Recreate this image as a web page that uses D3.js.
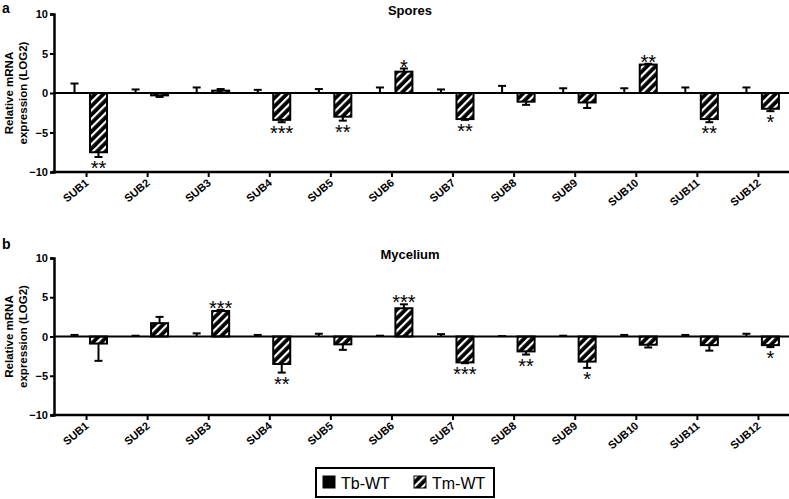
<!DOCTYPE html>
<html>
<head>
<meta charset="utf-8">
<script src="https://cdn.jsdelivr.net/npm/d3@7"></script>
<style>
  body { margin: 0; background: #fff; }
  text { font-family: Arial, "Liberation Sans", sans-serif; }
</style>
</head>
<body>
<div id="chart"></div>
<script>
// categories and series
let genes = ['SUB1', 'SUB2', 'SUB3', 'SUB4', 'SUB5', 'SUB6', 'SUB7', 'SUB8', 'SUB9', 'SUB10', 'SUB11', 'SUB12'];
let series = ['Tb-WT', 'Tm-WT'];
let yTicks = [-10, -5, 0, 5, 10];

// spores (panel a)
let sporesTb = [0, 0, 0, 0, 0, 0, 0, 0, 0, 0, 0, 0];
let sporesTbErr = [1.2, 0.45, 0.7, 0.4, 0.5, 0.7, 0.45, 0.9, 0.6, 0.6, 0.7, 0.7];
let sporesTm = [-7.5, -0.3, 0.3, -3.4, -3.0, 2.7, -3.3, -1.1, -1.2, 3.6, -3.3, -2.0];
let sporesTmErr = [0.6, 0.2, 0.2, 0.3, 0.5, 0.4, 0.1, 0.4, 0.7, 0.1, 0.4, 0.3];
let sporesSig = ['**', '', '', '***', '**', '*', '**', '', '', '**', '**', '*'];

// mycelium (panel b)
let myceliumTb = [0, 0, 0, 0, 0, 0, 0, 0, 0, 0, 0, 0];
let myceliumTbErr = [0.2, 0.1, 0.4, 0.2, 0.35, 0.1, 0.3, 0.05, 0.1, 0.2, 0.2, 0.35];
let myceliumTm = [-0.9, 1.7, 3.25, -3.5, -1.0, 3.6, -3.3, -1.9, -3.2, -1.05, -1.1, -1.1];
let myceliumTmErr = [2.2, 0.8, 0.15, 1.1, 0.7, 0.5, 0.1, 0.4, 0.8, 0.35, 0.7, 0.25];
let myceliumSig = ['', '', '***', '**', '', '***', '***', '**', '*', '', '', '*'];

let svgWidth = 789;
let svgHeight = 499;

let svg = d3.select('#chart').append('svg')
  .attr('width', svgWidth)
  .attr('height', svgHeight);

// hatch pattern for Tm-WT
let defs = svg.append('defs');
let pat = defs.append('pattern')
  .attr('id', 'hatch')
  .attr('patternUnits', 'userSpaceOnUse')
  .attr('width', 6)
  .attr('height', 6)
  .attr('patternTransform', 'rotate(45)');
pat.append('rect').attr('width', 6).attr('height', 6).attr('fill', '#000');
pat.append('rect').attr('x', 0).attr('y', 0).attr('width', 2.2).attr('height', 6).attr('fill', '#fff');

let x0 = d3.scaleBand()
  .domain(genes)
  .range([56, 789]);

let x1 = d3.scaleBand()
  .domain(series)
  .range([10, 51])
  .paddingInner(0.29);

// label slant
let ang = -40 * Math.PI / 180;
let ca = Math.cos(ang), sa = Math.sin(ang);

function drawPanel(opts) {
  let y = d3.scaleLinear()
    .domain([-10, 10])
    .range([opts.bottom, opts.top]);

  let g = svg.append('g');

  // panel letter and title
  g.append('text')
    .attr('x', 2)
    .attr('y', opts.letterY)
    .attr('font-size', 14)
    .attr('font-weight', 'bold')
    .text(opts.letter);

  g.append('text')
    .attr('x', 410)
    .attr('y', opts.titleY)
    .attr('text-anchor', 'middle')
    .attr('font-size', 13)
    .attr('font-weight', 'bold')
    .text(opts.title);

  // y label
  let ly = g.append('text')
    .attr('transform', `translate(0, ${y(0)}) rotate(-90)`)
    .attr('text-anchor', 'middle')
    .attr('font-size', 11.5)
    .attr('font-weight', 'bold');
  ly.append('tspan').attr('x', 0).attr('y', 13).text('Relative mRNA');
  ly.append('tspan').attr('x', 0).attr('y', 27).text('expression (LOG2)');

  let rows = genes.map((d, i) => ({
    gene: d,
    vals: [
      { key: 'Tb-WT', v: opts.tb[i], e: opts.tbErr[i] },
      { key: 'Tm-WT', v: opts.tm[i], e: opts.tmErr[i] }
    ],
    sig: opts.sig[i]
  }));

  // bars
  let groups = g.selectAll('g.grp')
    .data(rows)
    .enter()
    .append('g')
    .attr('class', 'grp')
    .attr('transform', d => `translate(${x0(d.gene)}, 0)`);

  groups.selectAll('rect')
    .data(d => d.vals)
    .enter()
    .append('rect')
    .attr('x', d => x1(d.key))
    .attr('width', x1.bandwidth())
    .attr('y', d => y(Math.max(0, d.v)))
    .attr('height', d => Math.abs(y(d.v) - y(0)))
    .attr('fill', d => d.key === 'Tb-WT' ? '#000' : 'url(#hatch)')
    .attr('stroke', '#000')
    .attr('stroke-width', 2);

  // error bars (away from zero)
  let err = groups.selectAll('g.err')
    .data(d => d.vals)
    .enter()
    .append('g')
    .attr('class', 'err')
    .attr('stroke', '#000')
    .attr('stroke-width', 2);

  let endOf = d => d.v < 0 ? d.v - d.e : d.v + d.e;

  err.append('line')
    .attr('x1', d => x1(d.key) + x1.bandwidth() / 2)
    .attr('x2', d => x1(d.key) + x1.bandwidth() / 2)
    .attr('y1', d => y(d.v))
    .attr('y2', d => y(endOf(d)));

  err.append('line')
    .attr('x1', d => x1(d.key) + x1.bandwidth() / 2 - 4)
    .attr('x2', d => x1(d.key) + x1.bandwidth() / 2 + 4)
    .attr('y1', d => y(endOf(d)))
    .attr('y2', d => y(endOf(d)));

  // significance stars on Tm bars
  groups.append('text')
    .attr('x', x1('Tm-WT') + x1.bandwidth() / 2)
    .attr('y', d => {
      let v = d.vals[1];
      let yy = y(endOf(v));
      return v.v < 0 ? yy + 18 : yy + 5;
    })
    .attr('text-anchor', 'middle')
    .attr('font-size', 20)
    .text(d => d.sig);

  // zero line
  g.append('line')
    .attr('x1', 54)
    .attr('x2', 789)
    .attr('y1', y(0))
    .attr('y2', y(0))
    .attr('stroke', '#000')
    .attr('stroke-width', 2.2);

  // y axis
  let leftAxis = d3.axisLeft(y)
    .tickValues(yTicks)
    .tickSize(4)
    .tickPadding(2)
    .tickFormat(d => d < 0 ? '\u2212' + Math.abs(d) : d);

  let ya = g.append('g')
    .attr('transform', 'translate(54, 0)')
    .call(leftAxis);
  ya.select('.domain').attr('stroke-width', 2.5);
  ya.selectAll('.tick line').attr('stroke-width', 2);
  ya.selectAll('.tick text')
    .attr('font-size', 11)
    .attr('font-weight', 'bold')
    .attr('fill', '#000');

  // x axis
  let bottomAxis = d3.axisBottom(x0)
    .tickSize(5)
    .tickSizeOuter(0)
    .tickFormat('');

  let xa = g.append('g')
    .attr('transform', `translate(0, ${opts.bottom})`)
    .call(bottomAxis);
  xa.select('.domain').attr('stroke-width', 2.5).attr('d', `M52,0H789`);
  xa.selectAll('.tick line').attr('stroke-width', 2);

  // slanted category labels
  g.append('g')
    .selectAll('text')
    .data(genes)
    .enter()
    .append('text')
    .attr('transform', d => {
      let tx = x0(d) + x0.bandwidth() / 2 + 3;
      let ty = opts.bottom + 12;
      return `matrix(${ca} ${sa} ${-sa} ${ca} ${tx} ${ty})`;
    })
    .attr('text-anchor', 'end')
    .attr('font-size', 11)
    .attr('font-weight', 'bold')
    .text(d => d);
}

drawPanel({
  letter: 'a', letterY: 13, title: 'Spores', titleY: 15,
  top: 14, bottom: 172,
  tb: sporesTb, tbErr: sporesTbErr, tm: sporesTm, tmErr: sporesTmErr, sig: sporesSig
});

drawPanel({
  letter: 'b', letterY: 249, title: 'Mycelium', titleY: 259,
  top: 258, bottom: 415,
  tb: myceliumTb, tbErr: myceliumTbErr, tm: myceliumTm, tmErr: myceliumTmErr, sig: myceliumSig
});

// legend
let legend = svg.append('g');
legend.append('rect')
  .attr('x', 316).attr('y', 468)
  .attr('width', 178).attr('height', 29)
  .attr('fill', '#fff')
  .attr('stroke', '#000')
  .attr('stroke-width', 2);

let legX = [323, 414];
series.forEach((s, i) => {
  legend.append('rect')
    .attr('x', legX[i]).attr('y', 476)
    .attr('width', 12).attr('height', 12)
    .attr('fill', i === 0 ? '#000' : 'url(#hatch)')
    .attr('stroke', '#000')
    .attr('stroke-width', 1);
  legend.append('text')
    .attr('x', legX[i] + 18)
    .attr('y', 489)
    .attr('font-size', 16)
    .text(s);
});
</script>
</body>
</html>
